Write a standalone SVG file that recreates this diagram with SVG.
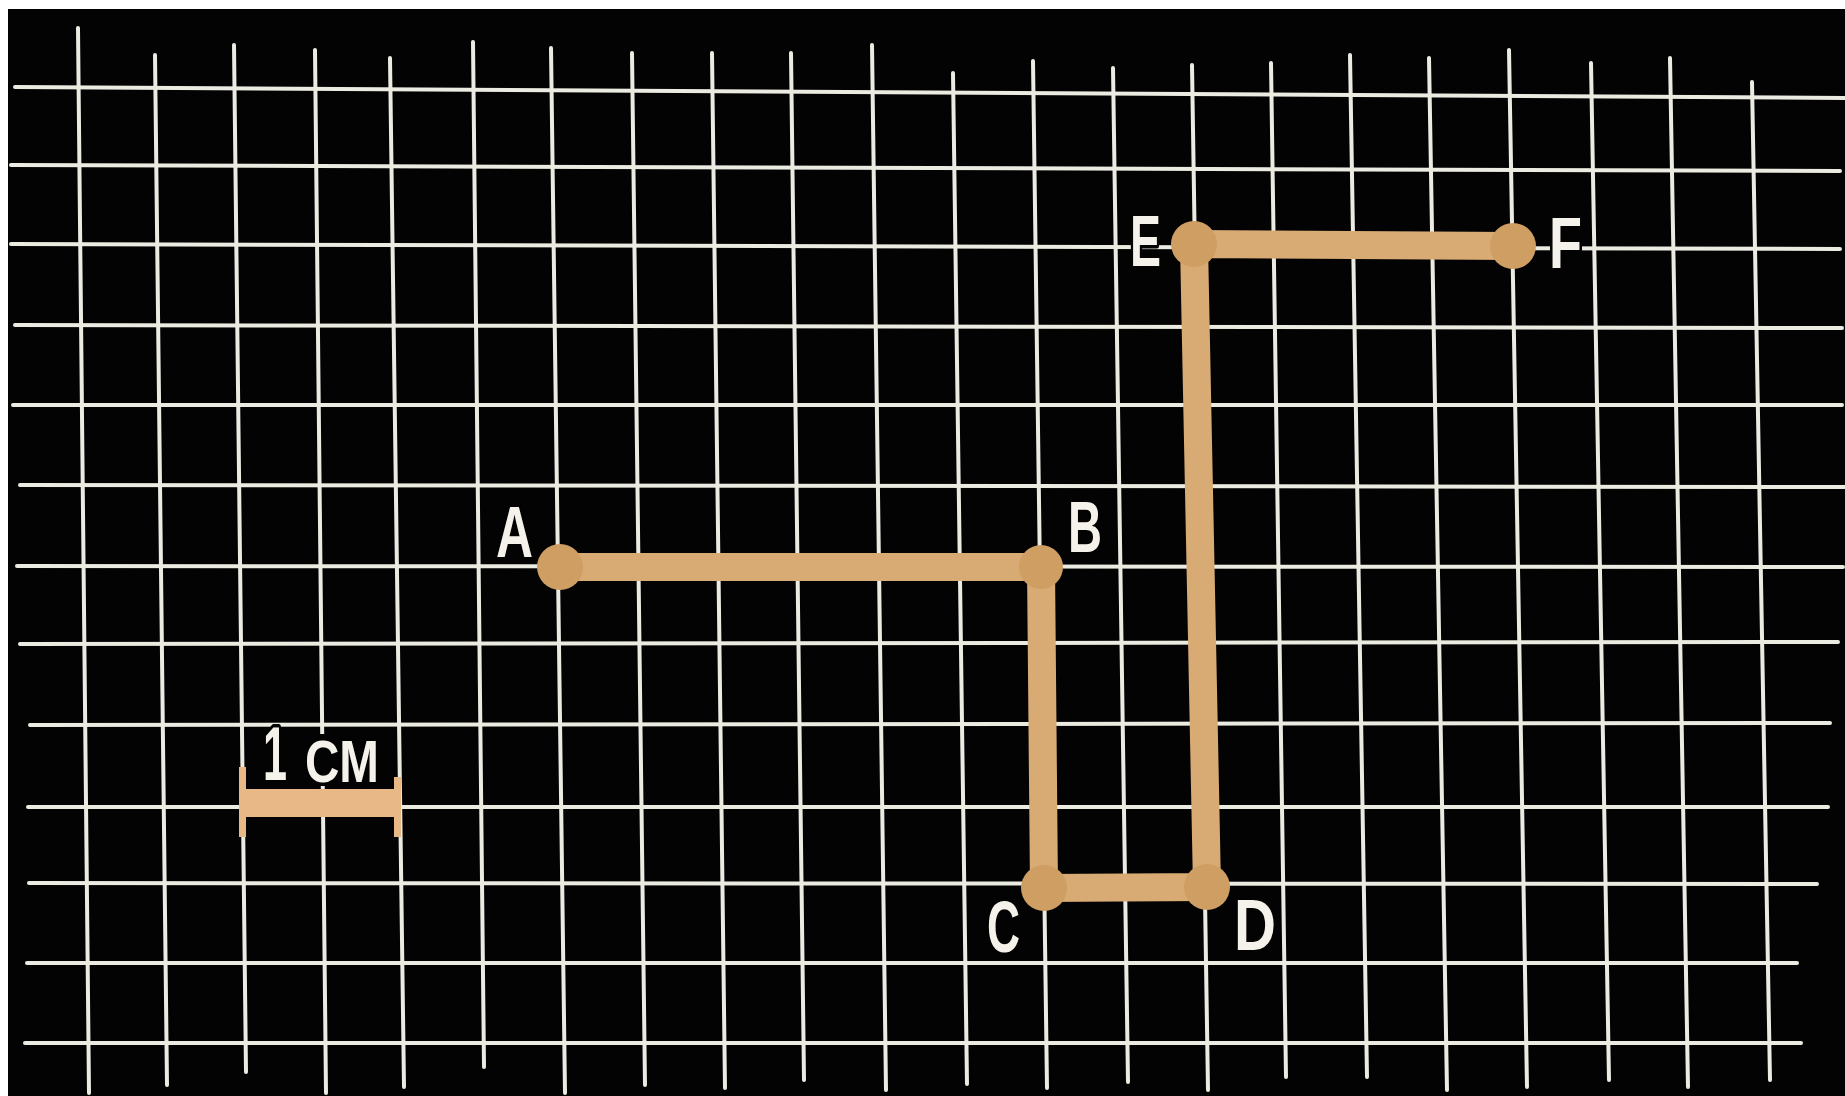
<svg xmlns="http://www.w3.org/2000/svg" width="1845" height="1096" viewBox="0 0 1845 1096">
<style>
.bg{fill:#030303}
.grid line{stroke:#ecebe2;stroke-width:4;stroke-linecap:round}
.path{fill:none;stroke:#d8aa74;stroke-width:28;stroke-linejoin:round;stroke-linecap:round}
.node{fill:#cf9e63}
.lbl{font-family:"Liberation Sans",Arial,sans-serif;font-weight:bold;font-size:72px;fill:#f4f2ea;stroke:#030303;stroke-width:7px;paint-order:stroke;stroke-linejoin:round}
.bar{fill:#e8b887}
</style>
<rect x="0" y="0" width="1845" height="1096" fill="#ffffff"/>
<rect class="bg" x="8" y="9" width="1837" height="1087"/>
<g id="grid" class="grid">
<line x1="15" y1="87" x2="1845" y2="98"/>
<line x1="11" y1="165" x2="1840" y2="171"/>
<line x1="11" y1="244" x2="1840" y2="249"/>
<line x1="15" y1="325" x2="1842" y2="328"/>
<line x1="13" y1="405" x2="1842" y2="405"/>
<line x1="20" y1="485" x2="1845" y2="487"/>
<line x1="17" y1="566" x2="1843" y2="567"/>
<line x1="20" y1="644" x2="1838" y2="642"/>
<line x1="30" y1="725" x2="1830" y2="723"/>
<line x1="28" y1="807" x2="1828" y2="807"/>
<line x1="29" y1="883" x2="1817" y2="884"/>
<line x1="27" y1="963" x2="1797" y2="963"/>
<line x1="25" y1="1043" x2="1801" y2="1043"/>
<line x1="78" y1="28" x2="89" y2="1093"/>
<line x1="155" y1="55" x2="167" y2="1085"/>
<line x1="234" y1="45" x2="246" y2="1072"/>
<line x1="315" y1="50" x2="326" y2="1093"/>
<line x1="390" y1="58" x2="404" y2="1087"/>
<line x1="473" y1="42" x2="484" y2="1067"/>
<line x1="551" y1="48" x2="565" y2="1093"/>
<line x1="632" y1="53" x2="645" y2="1085"/>
<line x1="712" y1="53" x2="725" y2="1088"/>
<line x1="791" y1="53" x2="804" y2="1080"/>
<line x1="872" y1="45" x2="886" y2="1090"/>
<line x1="953" y1="73" x2="967" y2="1084"/>
<line x1="1033" y1="61" x2="1047" y2="1088"/>
<line x1="1113" y1="68" x2="1128" y2="1082"/>
<line x1="1192" y1="65" x2="1208" y2="1090"/>
<line x1="1271" y1="63" x2="1286" y2="1077"/>
<line x1="1350" y1="55" x2="1367" y2="1077"/>
<line x1="1429" y1="58" x2="1447" y2="1090"/>
<line x1="1509" y1="50" x2="1527" y2="1087"/>
<line x1="1591" y1="63" x2="1609" y2="1080"/>
<line x1="1670" y1="58" x2="1688" y2="1087"/>
<line x1="1752" y1="82" x2="1770" y2="1080"/>
</g>
<g id="scale">
<rect class="bg" x="302" y="734" width="80" height="52"/>
<rect class="bar" x="242" y="789" width="158" height="28"/>
<rect class="bar" x="239" y="767" width="7" height="70"/>
<rect class="bar" x="394" y="777" width="7" height="60"/>
<text class="lbl" x="263" y="780" textLength="24" lengthAdjust="spacingAndGlyphs" style="font-size:76px">1</text>
<text class="lbl" x="305" y="782" textLength="74" lengthAdjust="spacingAndGlyphs" style="font-size:60px">CM</text>
</g>
<g id="connectors">
<polyline class="path" points="560,567 1041,567 1044,888 1207,887 1194,244 1513,246"/>
</g>
<g id="node-A"><circle class="node" cx="560" cy="567" r="23"/><text class="lbl" x="496" y="557" textLength="37" lengthAdjust="spacingAndGlyphs">A</text></g>
<g id="node-B"><circle class="node" cx="1041" cy="567" r="22"/><text class="lbl" x="1068" y="552" textLength="34" lengthAdjust="spacingAndGlyphs">B</text></g>
<g id="node-C"><circle class="node" cx="1044" cy="888" r="23"/><text class="lbl" x="987" y="952" textLength="33" lengthAdjust="spacingAndGlyphs">C</text></g>
<g id="node-D"><circle class="node" cx="1207" cy="887" r="23"/><text class="lbl" x="1234" y="950" textLength="42" lengthAdjust="spacingAndGlyphs">D</text></g>
<g id="node-E"><circle class="node" cx="1194" cy="244" r="23"/><text class="lbl" x="1130" y="266" textLength="31" lengthAdjust="spacingAndGlyphs">E</text></g>
<g id="node-F"><circle class="node" cx="1513" cy="246" r="23"/><text class="lbl" x="1549" y="268" textLength="33" lengthAdjust="spacingAndGlyphs">F</text></g>
</svg>
